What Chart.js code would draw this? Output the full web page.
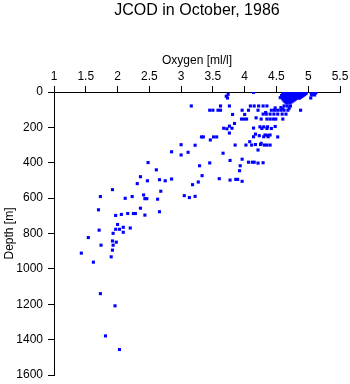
<!DOCTYPE html>
<html>
<head>
<meta charset="utf-8">
<script src="https://cdn.jsdelivr.net/npm/chart.js@4"></script>
<style>
  body { margin: 0; background: #fff; }
</style>
</head>
<body>
<canvas id="grafico" width="350" height="384"></canvas>
<script>
// Oxígeno [ml/l] vs profundidad [m]
const oxygen = [
    4.60, 4.65, 4.70, 4.75, 4.80, 4.85, 4.90, 4.95,
    4.62, 4.68, 4.73, 4.78, 4.83, 4.88, 4.93, 4.97,
    4.61, 4.66, 4.71, 4.76, 4.81, 4.86, 4.91, 4.96,
    4.60, 4.64, 4.69, 4.74, 4.79, 4.84, 4.89, 4.94,
    4.58, 4.63, 4.67, 4.72, 4.77, 4.82, 4.87, 4.92,
    4.60, 4.65, 4.70, 4.75, 4.80, 4.85, 4.90,
    4.59, 4.63, 4.68, 4.73, 4.78, 4.83, 4.88,
    4.62, 4.67, 4.72, 4.77, 4.82, 4.86,
    4.60, 4.65, 4.70, 4.75, 4.80,
    4.63, 4.68, 4.73, 4.78,
    4.62, 4.66, 4.71, 4.76,
    4.64, 4.69, 4.74,
    4.66, 4.71,
    5.04, 5.09, 5.13, 5.06, 5.11, 5.05, 5.10, 5.04,
    3.74, 3.71, 3.73, 4.14, 4.56,
    3.16, 3.62, 3.76, 4.09, 4.15, 4.22, 4.29, 4.35, 4.62, 4.67, 4.72,
    4.48, 4.57, 4.60, 4.70,
    3.45, 3.50, 3.58, 3.62, 3.96, 4.06, 4.21, 4.42, 4.47, 4.52, 4.57, 4.62, 4.68, 4.88,
    4.33,
    4.29, 4.34, 4.40, 4.46, 4.52, 4.59, 4.65,
    3.81, 4.00,
    4.18,
    3.95, 3.99, 4.03, 4.26, 4.35, 4.40, 4.45, 4.49, 4.60,
    3.84, 3.76,
    3.67, 3.72, 3.80, 4.14,
    4.24, 4.30, 4.36, 4.48,
    4.27, 4.35, 4.42,
    3.76,
    3.32, 3.35, 3.51, 3.56, 4.52,
    3.46,
    4.17, 4.14, 4.23, 4.32, 4.36, 4.40, 4.30, 4.37,
    4.08,
    3.00, 3.22, 3.85, 4.02, 4.11, 4.17, 4.26, 4.25, 4.31, 4.35, 4.40,
    4.21, 2.85, 3.00, 3.11, 3.66,
    3.96, 3.77, 3.45, 4.06, 4.12, 4.15, 4.21, 4.29,
    3.29, 3.93, 2.61, 3.92,
    3.33, 3.60, 3.77, 3.86, 3.89, 3.96,
    2.48, 2.36, 2.66, 2.75, 2.85, 2.47, 2.31,
    3.18, 3.27,
    1.92, 2.68, 1.73, 2.12, 2.23, 2.41, 2.43, 2.46, 2.63,
    3.05, 3.13, 3.22,
    1.70, 2.36, 2.66, 2.06, 2.16, 2.25, 2.28, 1.97, 2.43,
    2.00, 2.09, 2.20, 1.97, 2.03, 1.71, 2.09, 1.93,
    1.54, 1.92, 1.98, 1.93, 1.74, 1.92, 1.43, 1.90, 1.62,
    1.73, 1.96, 1.81, 2.03
];
const depth = [
    0, 0, 0, 0, 0, 0, 0, 0,
    5, 5, 5, 5, 5, 5, 5, 5,
    10, 10, 10, 10, 10, 10, 10, 10,
    15, 15, 15, 15, 15, 15, 15, 15,
    20, 20, 20, 20, 20, 20, 20, 20,
    25, 25, 25, 25, 25, 25, 25,
    30, 30, 30, 30, 30, 30, 30,
    35, 35, 35, 35, 35, 35,
    40, 40, 40, 40, 40,
    45, 45, 45, 45,
    50, 50, 50, 50,
    56, 56, 56,
    62, 62,
    0, 0, 0, 8, 8, 17, 17, 34,
    13, 24, 34, 2, 32,
    79, 79, 79, 79, 79, 79, 79, 79, 79, 79, 79,
    90, 88, 95, 92,
    103, 103, 103, 103, 103, 103, 103, 103, 103, 103, 103, 103, 103, 103,
    116,
    125, 125, 125, 125, 125, 125, 125,
    127, 127,
    146,
    153, 153, 153, 153, 153, 153, 153, 153, 153,
    178, 193,
    205, 208, 205, 204,
    197, 197, 197, 195,
    206, 206, 206,
    232,
    254, 254, 254, 254, 254,
    271,
    238, 253, 247, 243, 245, 243, 253, 253,
    281,
    298, 301, 300, 300, 300, 297, 290, 297, 300, 300, 300,
    328, 338, 356, 341, 346,
    380, 387, 401, 397, 397, 397, 402, 400,
    417, 417, 440, 445,
    473, 490, 498, 494, 494, 505,
    399, 479, 496, 502, 492, 502, 518,
    524, 509,
    552, 561, 591, 601, 591, 582, 603, 603, 606,
    586, 597, 590,
    666, 657, 677, 692, 687, 687, 687, 698, 696,
    749, 765, 769, 776, 776, 781, 793, 799,
    823, 842, 849, 866, 866, 894, 911, 932, 962,
    1140, 1209, 1379, 1456
];

const xTicks = [1, 1.5, 2, 2.5, 3, 3.5, 4, 4.5, 5, 5.5];
const yTicks = [0, 200, 400, 600, 800, 1000, 1200, 1400, 1600];

const fuente = "'Liberation Sans', Arial, sans-serif";

const puntos = oxygen.map((o, i) => ({x: o, y: depth[i]}));

new Chart(
    document.getElementById("grafico"),
    {
        type: "scatter",
        data: {
            datasets: [{
                data: puntos,
                pointStyle: "rect",
                pointRadius: 2.2,
                pointHoverRadius: 2.2,
                pointBorderWidth: 0,
                backgroundColor: "#0000ff",
                borderColor: "#0000ff"
            }]
        },
        options: {
            responsive: false,
            animation: false,
            events: [],
            layout: {padding: {top: 0, left: 0, right: 10, bottom: 9}},
            plugins: {
                legend: {display: false},
                tooltip: {enabled: false},
                title: {
                    display: true,
                    text: "JCOD in October, 1986",
                    color: "#000",
                    fullSize: false,
                    font: {family: fuente, size: 16, weight: "normal", lineHeight: 1},
                    padding: {top: 3, bottom: 0}
                }
            },
            scales: {
                x: {
                    type: "linear",
                    position: "top",
                    min: 1,
                    max: 5.5,
                    afterBuildTicks: s => { s.ticks = xTicks.map(v => ({value: v})); },
                    afterFit: s => { s.height = 73; s.paddingLeft = 0; s.paddingRight = 0; },
                    grid: {drawOnChartArea: false, drawTicks: true, tickLength: 6, color: "#000"},
                    border: {display: true, color: "#000"},
                    ticks: {color: "#000", padding: 2, maxRotation: 0, autoSkip: false,
                        callback: v => String(v),
                        font: {family: fuente, size: 12}},
                    title: {display: true, text: "Oxygen [ml/l]", color: "#000",
                        font: {family: fuente, size: 12}, padding: {top: 34, bottom: 0}}
                },
                y: {
                    type: "linear",
                    reverse: true,
                    min: 0,
                    max: 1600,
                    afterBuildTicks: s => { s.ticks = yTicks.map(v => ({value: v})); },
                    afterFit: s => { s.width = 54; s.paddingTop = 0; s.paddingBottom = 0; },
                    grid: {drawOnChartArea: false, drawTicks: true, tickLength: 6, color: "#000"},
                    border: {display: true, color: "#000"},
                    ticks: {color: "#000", padding: 5, autoSkip: false,
                        callback: v => String(v),
                        font: {family: fuente, size: 12}},
                    title: {display: true, text: "Depth [m]", color: "#000",
                        font: {family: fuente, size: 12}, padding: {top: 2, bottom: 0}}
                }
            }
        }
    }
);
</script>
</body>
</html>
